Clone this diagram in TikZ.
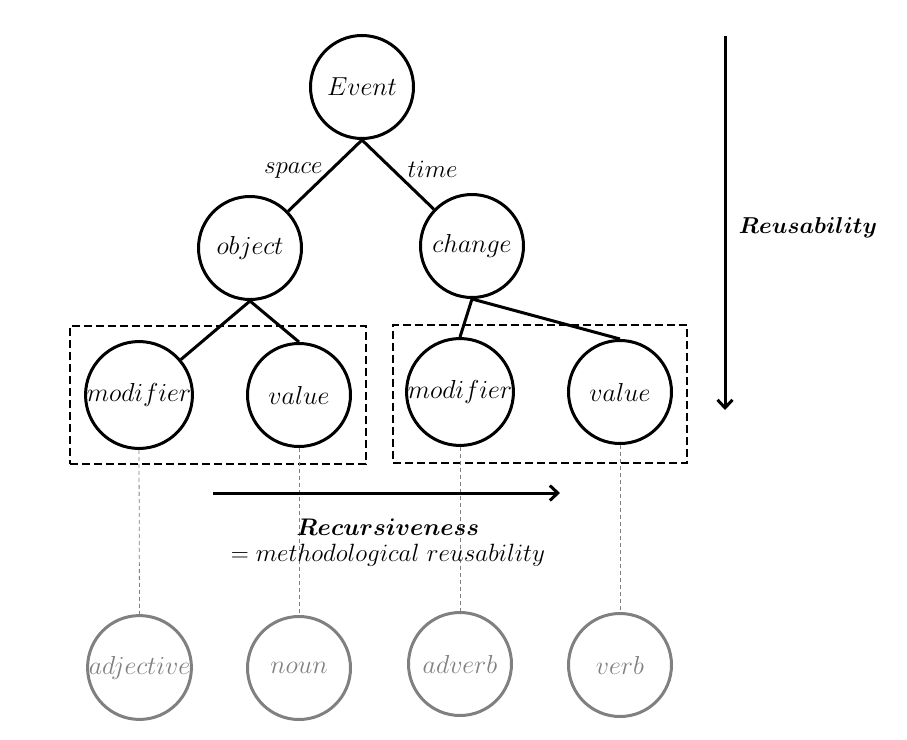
\documentclass[tikz,border=0pt]{standalone}
\usepackage{fix-cm}
\usepackage{bm}
\usetikzlibrary{arrows.meta,fit}
\begin{document}
\begin{tikzpicture}[x=1pt,y=-1pt,>={Straight Barb[length=8pt,width=15pt]},
  concept/.style={circle,draw,line width=3pt,minimum size=103pt,inner sep=0pt,
    font=\fontsize{26}{30}\selectfont},
  word/.style={concept,draw=gray,text=gray},
  frame/.style={draw,line width=2.8pt,dash pattern=on 8pt off 4pt,inner sep=14pt},
  link/.style={line width=3pt},
  guide/.style={draw=gray,line width=0.8pt,dash pattern=on 4pt off 3pt},
  tag/.style={inner sep=1pt,font=\fontsize{25}{29}\selectfont}]
\useasboundingbox (0,0) rectangle (907,739);
% tree
\node[concept] (event) at (362,87) {$Event$};
\node[concept] (object) at (250,248) {$object$};
\node[concept] (change) at (472,246) {$change$};
\node[concept] (modA) at (139,395) {$modifier$};
\node[concept] (valA) at (299,395) {$value$};
\node[concept] (modB) at (460,392) {$modifier$};
\node[concept] (valB) at (620,392) {$value$};
\node[frame,fit=(modA)(valA)] (boxA) {};
\node[frame,fit=(modB)(valB),yshift=-2pt,xshift=1pt,inner xsep=13pt] (boxB) {};
\draw[link] (event.south) -- node[tag,above left,yshift=-5pt] {$space$} (object);
\draw[link] (event.south) -- node[tag,above right,pos=0.6,yshift=2pt] {$time$} (change);
\draw[link] (object.south) -- (modA);
\draw[link] (object.south) -- (valA.north);
\draw[link] (change.south) -- (modB.north);
\draw[link] (change.south) -- (valB.north);
% word classes
\node[word] (adj) at (139.5,667.5) {$adjective$};
\node[word] (noun) at (299,668) {$noun$};
\node[word] (adv) at (460,664) {$adverb$};
\node[word] (verb) at (620,665) {$verb$};
\draw[guide] (modA.south) -- (adj.north);
\draw[guide] (valA.south) -- (noun.north);
\draw[guide] (modB.south) -- (adv.north);
\draw[guide] (valB.south) -- (verb.north);
% axes
\coordinate (reuseTop) at (725,36);
\coordinate (reuseEnd) at (725,410);
\draw[->,link] (reuseTop) -- (reuseEnd);
\node[font=\fontsize{23}{27}\selectfont] (reuse) at (808,228) {$\bm{Reusability}$};
\coordinate (recStart) at (213,493);
\coordinate (recEnd) at (560,493);
\draw[->,link] (recStart) -- (recEnd);
\node[font=\fontsize{24}{28}\selectfont] (rec) at (388,527) {$\bm{Recursiveness}$};
\node[font=\fontsize{25}{29}\selectfont] (recnote) at (388,555) {$=methodological\ reusability$};
\end{tikzpicture}
\end{document}
